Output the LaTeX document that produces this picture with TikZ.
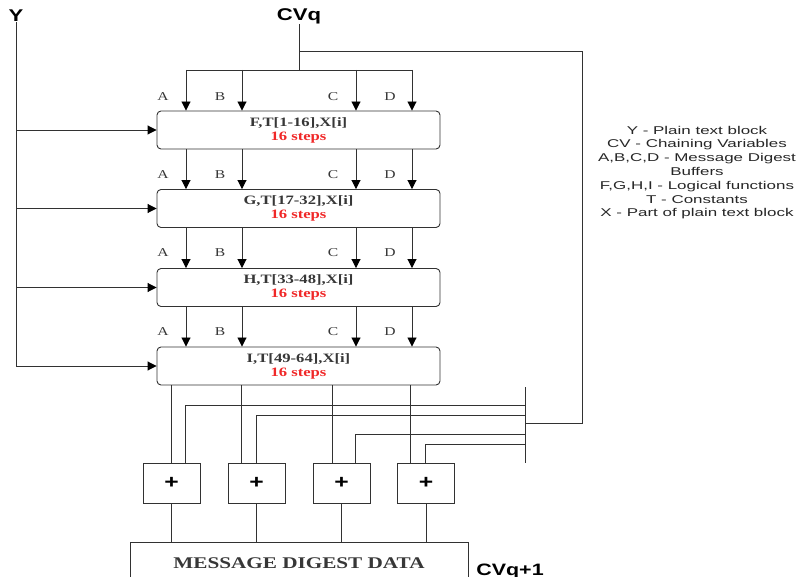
\documentclass[tikz,border=0pt]{standalone}
\usepackage{fontspec}
\setmainfont{Liberation Serif}[FakeStretch=1.3]
\newfontfamily\legfont{Liberation Sans}[FakeStretch=1.5]
\newfontfamily\hdfont{Liberation Sans}[FakeStretch=1.3]
\usetikzlibrary{arrows.meta}
\definecolor{lncol}{RGB}{50,50,50}
\definecolor{txtcol}{RGB}{55,55,55}
\definecolor{stepred}{RGB}{240,40,40}
\begin{document}
\begin{tikzpicture}[x=1pt,y=-1pt,
 ln/.style={draw=lncol,line width=0.9pt},
 arr/.style={ln,-{Triangle[length=9pt,width=9pt,color=black]}},
 stage/.style={draw=lncol,line width=0.9pt,rounded corners=4pt,minimum width=283pt,minimum height=38pt,align=center,font=\fontsize{12.8}{14}\selectfont\bfseries,text=txtcol,inner sep=0pt},
 plusbox/.style={draw=lncol,line width=0.9pt,minimum width=57pt,minimum height=40pt,font=\hdfont\fontsize{19}{19}\selectfont\bfseries,inner sep=0pt},
 buf/.style={font=\fontsize{12}{12}\selectfont,text=txtcol,inner sep=0pt},
 hd/.style={font=\hdfont\fontsize{17}{17}\selectfont\bfseries,inner sep=0pt}
]
\useasboundingbox (0,0) rectangle (798,577);

% headers
\node[hd] (Y) at (16,16) {Y};
\node[hd] (cv) at (299,16) {CVq};

% stages
\node[stage] (s1) at (298.5,130) {F,T[1-16],X[i]\\\textcolor{stepred}{16 steps}};
\node[stage] (s2) at (298.5,208.5) {G,T[17-32],X[i]\\\textcolor{stepred}{16 steps}};
\node[stage] (s3) at (298.5,287.5) {H,T[33-48],X[i]\\\textcolor{stepred}{16 steps}};
\node[stage] (s4) at (298.5,366) {I,T[49-64],X[i]\\\textcolor{stepred}{16 steps}};

% columns
\coordinate (ca) at (186,0);
\coordinate (cb) at (242,0);
\coordinate (cc) at (356,0);
\coordinate (cd) at (412,0);

% top distribution
\coordinate (cvj) at (299,70);
\draw[ln] (cv.south) -- (cvj);
\draw[ln] (ca |- cvj) -- (cd |- cvj);
\foreach \c in {ca,cb,cc,cd}{
  \draw[arr] (\c |- cvj) -- (\c |- s1.north);
}
% between stages
\foreach \u/\v in {s1/s2,s2/s3,s3/s4}{
  \foreach \c in {ca,cb,cc,cd}{
    \draw[arr] (\c |- \u.south) -- (\c |- \v.north);
  }
}
% buffer labels
\foreach \yy [count=\i] in {97,175,253,332}{
  \node[buf] (la\i) at (163,\yy) {A};
  \node[buf] (lb\i) at (220,\yy) {B};
  \node[buf] (lc\i) at (333,\yy) {C};
  \node[buf] (ld\i) at (390,\yy) {D};
}

% Y input
\coordinate (yl) at (16,0);
\draw[ln] (Y.south) -- (yl |- s4.west);
\foreach \s in {s1,s2,s3,s4}{
  \draw[arr] (yl |- \s.west) -- (\s.west);
}

% feedback of CVq
\coordinate (fbs) at (299,51);
\coordinate (fbr) at (582,51);
\coordinate (fbb) at (582,423);
\coordinate (bar) at (525,423);
\draw[ln] (fbs) -- (fbr) -- (fbb) -- (bar);
\coordinate (bt) at (525,387);
\coordinate (bb) at (525,463);
\draw[ln] (bt) -- (bb);

% adders
\node[plusbox] (p1) at (171.5,483) {+};
\node[plusbox] (p2) at (256.5,483) {+};
\node[plusbox] (p3) at (341.5,483) {+};
\node[plusbox] (p4) at (426,483) {+};

% outputs of last stage
\coordinate (q1) at (171,0);
\coordinate (q2) at (241,0);
\coordinate (q3) at (332,0);
\coordinate (q4) at (410,0);
\draw[ln] (q1 |- s4.south) -- (q1 |- p1.north);
\draw[ln] (q2 |- s4.south) -- (q2 |- p2.north);
\draw[ln] (q3 |- s4.south) -- (q3 |- p3.north);
\draw[ln] (q4 |- s4.south) -- (q4 |- p4.north);

% chaining variable feed to adders
\coordinate (h1) at (525,405);
\coordinate (h2) at (525,415);
\coordinate (h3) at (525,434);
\coordinate (h4) at (525,444);
\coordinate (d1) at (185,0);
\coordinate (d2) at (256,0);
\coordinate (d3) at (355,0);
\coordinate (d4) at (425,0);
\draw[ln] (h1) -| (d1 |- p1.north);
\draw[ln] (h2) -| (d2 |- p2.north);
\draw[ln] (h3) -| (d3 |- p3.north);
\draw[ln] (h4) -| (d4 |- p4.north);

% message digest
\node[draw=lncol,line width=0.9pt,minimum width=338pt,minimum height=42pt,inner sep=0pt,
      font=\fontsize{16.3}{16.3}\selectfont\bfseries,text=txtcol] (m) at (299,563) {MESSAGE DIGEST DATA};
\foreach \p in {p1,p2,p3,p4}{
  \draw[ln] (\p.south) -- (\p.south |- m.north);
}
\node[hd,font=\hdfont\fontsize{16.5}{16.5}\selectfont\bfseries] (cvn) at (510,571) {CVq+1};

% legend
\node[font=\legfont\fontsize{11.3}{13.8}\selectfont,align=center,text=black!85,inner sep=0pt] (leg) at (697,172.5)
 {Y - Plain text block\\CV - Chaining Variables\\A,B,C,D - Message Digest\\Buffers\\F,G,H,I - Logical functions\\T - Constants\\X - Part of plain text block};
\end{tikzpicture}
\end{document}
